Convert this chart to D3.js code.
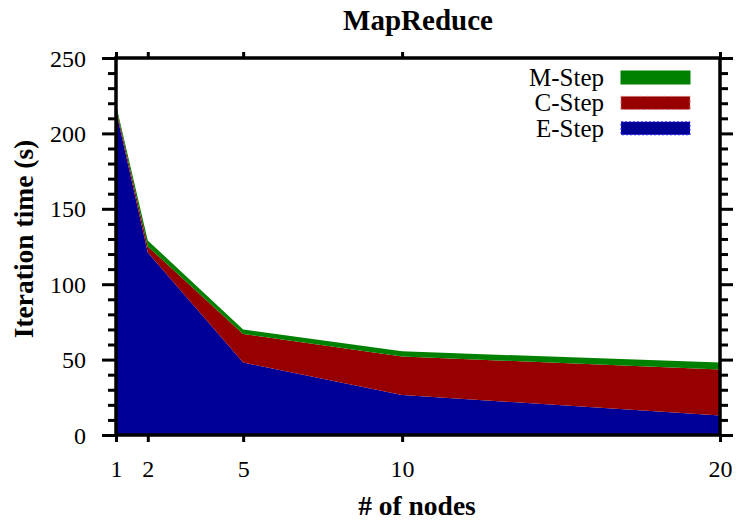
<!DOCTYPE html>
<html>
<head>
<meta charset="utf-8">
<script src="https://cdn.jsdelivr.net/npm/d3@7"></script>
<style>
  body { margin: 0; background: #fff; }
  text { font-family: "Liberation Serif", "Times New Roman", serif; fill: #000; }
</style>
</head>
<body>
<script>
// values
const nodes = [1, 2, 5, 10, 20];
const eStep = [215, 121, 48, 26.5, 13];
const cStep = [2, 4, 19, 25.5, 30.5];
const mStep = [2, 4, 3, 3.5, 4.5];
const yTicks = [0, 50, 100, 150, 200, 250];
const seriesNames = ['E-Step', 'C-Step', 'M-Step'];
const seriesColors = ['#000096', '#960000', '#008000'];

const W = 737, H = 520;
const mLeft = 116, mRight = 720, mTop = 58, mBottom = 435;

let svg = d3.select(document.body).append('svg')
  .attr('width', W)
  .attr('height', H);

let x = d3.scaleLinear().domain([1, 20]).range([mLeft, mRight]);
let y = d3.scaleLinear().domain([0, 250]).range([mBottom, mTop]);

let rows = nodes.map((n, i) => ({ n: n, 'E-Step': eStep[i], 'C-Step': cStep[i], 'M-Step': mStep[i] }));
let stack = d3.stack().keys(seriesNames)(rows);

let area = d3.area()
  .x(d => x(d.data.n))
  .y0(d => y(d[0]))
  .y1(d => y(d[1]));

svg.append('g').selectAll('path')
  .data(stack)
  .enter().append('path')
  .attr('d', area)
  .attr('fill', (d, i) => seriesColors[i]);

// axes: ticks point outward, mirrored on top and right
let yMinor = d3.range(0, 251, 10).filter(v => v % 50 !== 0);

let axL = svg.append('g').attr('transform', `translate(${mLeft},0)`)
  .call(d3.axisLeft(y).tickValues(yTicks).tickSize(14).tickPadding(16).tickSizeOuter(0));
svg.append('g').attr('transform', `translate(${mLeft},0)`)
  .call(d3.axisLeft(y).tickValues(yMinor).tickSize(8).tickFormat('').tickSizeOuter(0));
svg.append('g').attr('transform', `translate(${mRight},0)`)
  .call(d3.axisRight(y).tickValues(yTicks).tickSize(13).tickFormat('').tickSizeOuter(0));
svg.append('g').attr('transform', `translate(${mRight},0)`)
  .call(d3.axisRight(y).tickValues(yMinor).tickSize(8).tickFormat('').tickSizeOuter(0));

let axB = svg.append('g').attr('transform', `translate(0,${mBottom})`)
  .call(d3.axisBottom(x).tickValues(nodes).tickSize(7).tickPadding(18).tickSizeOuter(0).tickFormat(d3.format('d')));
svg.append('g').attr('transform', `translate(0,${mTop})`)
  .call(d3.axisTop(x).tickValues(nodes).tickSize(6).tickFormat('').tickSizeOuter(0));

svg.selectAll('.domain').remove();
svg.selectAll('.tick line').attr('stroke', '#000').attr('stroke-width', 3);
svg.selectAll('.tick text')
  .style('font-family', '"Liberation Serif", serif')
  .style('font-size', '24px')
  .attr('fill', '#000');
axL.selectAll('.tick text').attr('dy', '0.34em');
axB.selectAll('.tick text').attr('dy', '0.71em');

svg.append('rect')
  .attr('x', mLeft).attr('y', mTop)
  .attr('width', mRight - mLeft).attr('height', mBottom - mTop)
  .attr('fill', 'none').attr('stroke', '#000').attr('stroke-width', 3.5);

// legend, top entry first
let legend = svg.append('g');
let order = [2, 1, 0];
let dashes = [null, '4 2', '2 2'];
let borders = ['#008000', '#d07070', '#3030ff'];
order.forEach((si, k) => {
  let cy = 77.5 + k * 25.4;
  legend.append('text')
    .attr('x', 604).attr('y', cy).attr('dy', '0.34em')
    .attr('text-anchor', 'end')
    .style('font-size', '25px')
    .text(seriesNames[si]);
  legend.append('rect')
    .attr('x', 621).attr('y', cy - 6.5)
    .attr('width', 69).attr('height', 13)
    .attr('fill', seriesColors[si])
    .attr('stroke', borders[2 - si])
    .attr('stroke-width', 1)
    .attr('stroke-dasharray', dashes[2 - si]);
});

svg.append('text')
  .attr('x', (mLeft + mRight) / 2).attr('y', 30)
  .attr('text-anchor', 'middle')
  .style('font-size', '29px').style('font-weight', 'bold')
  .text('MapReduce');

svg.append('text')
  .attr('x', (mLeft + mRight) / 2 - 1).attr('y', 515)
  .attr('text-anchor', 'middle')
  .style('font-size', '27.5px').style('font-weight', 'bold')
  .text('# of nodes');

svg.append('text')
  .attr('transform', 'translate(33,239) rotate(-90)')
  .attr('text-anchor', 'middle')
  .style('font-size', '27.5px').style('font-weight', 'bold')
  .text('Iteration time (s)');
</script>
</body>
</html>
